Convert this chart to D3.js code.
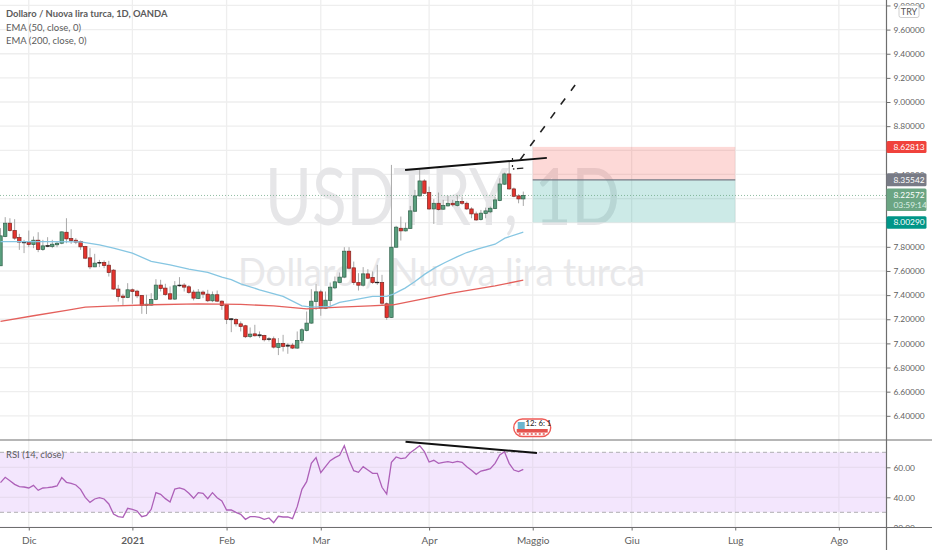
<!DOCTYPE html>
<html>
<head>
<meta charset="utf-8">
<script src="https://cdn.jsdelivr.net/npm/d3@7"></script>
<style>
  html, body { margin: 0; padding: 0; background: #fff; overflow: hidden; }
  svg { display: block; font-family: Lato, sans-serif; }
  .axis path { display: none; }
</style>
</head>
<body>
<svg width="932" height="550"></svg>
<script>
const width = 932;
const height = 550;

// Daily candles, one value per bar
const opens = [7.643,7.886,7.996,7.935,7.877,7.841,7.836,7.819,7.855,7.778,7.811,7.803,7.817,7.830,7.921,7.869,7.855,7.844,7.803,7.709,7.634,7.670,7.670,7.648,7.607,7.450,7.392,7.380,7.444,7.433,7.397,7.314,7.317,7.364,7.483,7.458,7.411,7.367,7.483,7.483,7.469,7.425,7.372,7.425,7.408,7.353,7.403,7.350,7.320,7.204,7.198,7.162,7.146,7.057,7.079,7.071,7.066,7.038,7.038,6.966,7.000,6.986,6.986,6.961,7.024,7.107,7.168,7.347,7.427,7.289,7.355,7.460,7.504,7.549,7.764,7.626,7.504,7.482,7.576,7.546,7.507,7.504,7.328,7.215,7.797,7.954,7.932,7.952,8.095,8.222,8.346,8.250,8.114,8.161,8.112,8.139,8.161,8.142,8.175,8.161,8.114,8.073,8.026,8.076,8.090,8.117,8.183,8.319,8.404,8.280,8.222,8.197];
const highs = [7.955,8.046,8.037,8.029,7.908,7.858,7.935,7.886,7.921,7.858,7.880,7.858,7.844,7.927,8.037,7.946,7.872,7.852,7.808,7.789,7.742,7.692,7.687,7.684,7.615,7.485,7.411,7.499,7.455,7.444,7.400,7.403,7.416,7.532,7.527,7.494,7.472,7.516,7.549,7.499,7.483,7.444,7.450,7.438,7.444,7.430,7.438,7.356,7.323,7.209,7.209,7.182,7.154,7.132,7.154,7.099,7.071,7.052,7.057,7.044,7.071,7.002,7.002,7.099,7.126,7.264,7.449,7.493,7.444,7.430,7.504,7.554,7.587,7.797,7.797,7.678,7.582,7.632,7.615,7.596,7.651,7.568,7.339,8.479,7.974,8.051,8.001,8.139,8.272,8.451,8.360,8.299,8.195,8.250,8.189,8.222,8.189,8.230,8.217,8.175,8.128,8.092,8.106,8.125,8.134,8.217,8.368,8.415,8.506,8.291,8.236,8.258];
const lows = [7.643,7.880,7.927,7.858,7.775,7.748,7.797,7.789,7.756,7.767,7.797,7.789,7.797,7.822,7.830,7.825,7.822,7.775,7.698,7.615,7.632,7.632,7.623,7.554,7.444,7.347,7.312,7.375,7.328,7.375,7.245,7.243,7.311,7.358,7.430,7.394,7.361,7.361,7.469,7.430,7.411,7.356,7.367,7.375,7.342,7.342,7.342,7.278,7.160,7.093,7.140,7.099,7.044,7.044,7.057,7.044,7.016,7.016,6.958,6.903,6.933,6.914,6.953,6.955,7.002,7.099,7.162,7.278,7.229,7.284,7.311,7.449,7.499,7.540,7.615,7.485,7.438,7.471,7.532,7.493,7.485,7.320,7.195,7.210,7.794,7.852,7.927,7.949,8.090,8.217,8.239,8.106,7.990,8.101,8.106,8.134,8.134,8.134,8.148,8.106,8.037,8.015,8.018,8.037,8.079,8.112,8.178,8.313,8.272,8.211,8.161,8.139];
const closes = [7.891,7.996,7.935,7.872,7.839,7.833,7.819,7.855,7.778,7.808,7.803,7.822,7.830,7.924,7.866,7.852,7.839,7.800,7.706,7.634,7.665,7.665,7.645,7.587,7.450,7.389,7.380,7.444,7.430,7.394,7.314,7.325,7.364,7.483,7.455,7.405,7.367,7.477,7.477,7.466,7.422,7.375,7.425,7.408,7.353,7.403,7.350,7.314,7.198,7.196,7.162,7.140,7.055,7.077,7.063,7.063,7.030,7.033,6.969,7.000,6.975,6.977,6.961,7.024,7.113,7.168,7.350,7.427,7.292,7.358,7.466,7.510,7.549,7.764,7.623,7.504,7.482,7.576,7.540,7.504,7.502,7.333,7.215,7.797,7.963,7.932,7.954,8.098,8.222,8.346,8.244,8.114,8.161,8.109,8.142,8.161,8.148,8.175,8.161,8.114,8.073,8.023,8.079,8.098,8.120,8.189,8.321,8.404,8.280,8.219,8.197,8.226];

// EMA lines, read at these bars
const ema50Bars = [0,10,17,21,24,28,32,36,40,44,47,49,51,55,60,64,66,70,72,75,79,82,83.4,85.9,88,90.1,92.3,94.4,96.9,99,101.4,105,107.1,111];
const ema50Values = [7.844,7.844,7.841,7.817,7.789,7.748,7.679,7.651,7.615,7.588,7.549,7.529,7.494,7.444,7.389,7.311,7.300,7.306,7.339,7.361,7.389,7.389,7.408,7.458,7.513,7.574,7.628,7.670,7.717,7.753,7.783,7.822,7.872,7.921];
const ema200Bars = [0,7,14,18,23,32,42,51,58,65,72,78.5,83.4,88.7,95.8,105,111];
const ema200Values = [7.182,7.229,7.273,7.300,7.309,7.320,7.328,7.323,7.311,7.286,7.300,7.311,7.320,7.361,7.416,7.477,7.524];

const rsiValues = [49.76,53.32,51.09,48.65,47.09,46.87,46.21,47.98,44.65,46.21,46.43,46.87,47.54,53.10,49.98,49.32,48.21,45.32,39.98,36.65,38.87,39.76,38.87,35.54,28.87,27.10,26.65,32.65,31.99,30.87,27.10,27.99,31.99,43.10,41.98,39.10,36.87,45.54,46.21,45.32,42.65,39.32,43.10,42.65,39.10,43.10,39.76,37.54,31.54,31.54,29.99,28.65,25.32,27.10,27.10,26.65,25.32,26.21,23.10,27.32,26.87,26.87,25.76,33.76,45.32,50.43,62.65,66.43,56.43,60.43,64.43,66.43,67.98,74.42,64.87,57.76,56.65,60.43,58.20,55.98,55.98,46.65,42.20,63.31,66.87,65.76,66.20,69.76,71.98,74.42,70.42,63.54,64.65,62.65,63.31,63.76,63.09,63.98,63.31,60.43,57.98,55.31,57.54,58.20,59.09,62.65,68.20,70.42,62.65,58.20,57.09,58.65];

// Axis ticks
const monthBars = [6,28,48,68,91,113,134,156,178];
const monthLabels = ["Dic","2021","Feb","Mar","Apr","Maggio","Giu","Lug","Ago"];
const priceTicks = [9.8,9.6,9.4,9.2,9,8.8,8.6,8.4,8.2,8,7.8,7.6,7.4,7.2,7,6.8,6.6,6.4];
const hiddenPriceLabels = [8.6,8.2,8]; // these sit fully under the price tags
const rsiTicks = [60,40,20];

// Long position drawing
const boxStartBar = 113;
const boxEndBar = 156;
const stopPrice = 8.62813;
const entryPrice = 8.35542;
const targetPrice = 8.00290;
const lastPrice = 8.22572;

// Hand drawn lines as [bar, value]
const resistanceLine = [[85.9,8.437],[116,8.537]];
const projectionLine = [[110.3,8.520],[122,9.141]];
const tickDashV = [[108.7,8.537],[108.7,8.462]];
const tickDashH = [[108.8,8.445],[111,8.453]];
const rsiTrendLine = [[86,77.07],[113.9,69.53]];

const axisX = 886.5;
const paneBottom = 440;
const rsiBottom = 527.5;

const x = d3.scaleLinear().domain([0, 111]).range([0.5, 523.3]);
const y = d3.scaleLinear().domain([9.6, 6.4]).range([29.6, 415.8]);
const yRsi = d3.scaleLinear().domain([60, 40]).range([467.3, 497.3]);

const svg = d3.select("svg");
const defs = svg.append("defs");
defs.append("clipPath").attr("id", "pricePane").append("rect")
  .attr("width", axisX).attr("height", paneBottom);
defs.append("clipPath").attr("id", "rsiPane").append("rect")
  .attr("y", paneBottom).attr("width", axisX).attr("height", rsiBottom - paneBottom);

svg.append("rect").attr("width", width).attr("height", height).attr("fill", "#fff");

// Grid
const gridColor = "#eeeeee";
svg.selectAll("line.vgrid")
  .data(monthBars)
  .enter().append("line")
  .attr("class", "vgrid")
  .attr("x1", d => x(d)).attr("x2", d => x(d))
  .attr("y1", 0).attr("y2", rsiBottom)
  .style("stroke", gridColor).style("stroke-width", 1.3);

svg.selectAll("line.hgrid")
  .data(priceTicks)
  .enter().append("line")
  .attr("class", "hgrid")
  .attr("x1", 0).attr("x2", axisX)
  .attr("y1", d => y(d)).attr("y2", d => y(d))
  .style("stroke", gridColor).style("stroke-width", 1.3);

// Watermark
svg.append("text")
  .attr("x", 265).attr("y", 225)
  .attr("textLength", 355).attr("lengthAdjust", "spacingAndGlyphs")
  .style("font-size", "79px")
  .style("fill", "#e6e6e8")
  .text("USDTRY, 1D");
svg.append("text")
  .attr("x", 238).attr("y", 286)
  .attr("textLength", 407).attr("lengthAdjust", "spacingAndGlyphs")
  .style("font-size", "38.5px")
  .style("fill", "#e8e8ea")
  .text("Dollaro / Nuova lira turca");

// Position boxes
const boxX = x(boxStartBar);
const boxW = x(boxEndBar) - x(boxStartBar);
svg.append("rect")
  .attr("x", boxX).attr("width", boxW)
  .attr("y", y(stopPrice)).attr("height", y(entryPrice) - y(stopPrice))
  .style("fill", "#f44336").style("opacity", 0.2);
svg.append("rect")
  .attr("x", boxX).attr("width", boxW)
  .attr("y", y(entryPrice)).attr("height", y(targetPrice) - y(entryPrice))
  .style("fill", "#009688").style("opacity", 0.2);
svg.append("line")
  .attr("x1", boxX).attr("x2", boxX + boxW)
  .attr("y1", y(entryPrice)).attr("y2", y(entryPrice))
  .style("stroke", "#787b86").style("stroke-width", 1.2);

// Last price line
svg.append("line")
  .attr("x1", 0).attr("x2", axisX)
  .attr("y1", y(lastPrice)).attr("y2", y(lastPrice))
  .style("stroke", "#6ba583").style("stroke-width", 1)
  .style("stroke-opacity", 0.75)
  .style("stroke-dasharray", "1 2");

// Candles
const bars = d3.range(closes.length);
const candles = svg.append("g").attr("clip-path", "url(#pricePane)");
const bodyFill = i => Math.abs(closes[i] - opens[i]) < 0.01 ? "#333" : closes[i] > opens[i] ? "#5a9f7e" : "#e5342e";
const bodyEdge = i => Math.abs(closes[i] - opens[i]) < 0.01 ? "#222" : closes[i] > opens[i] ? "#2f6049" : "#7d2420";

candles.selectAll("line.wick")
  .data(bars)
  .enter().append("line")
  .attr("class", "wick")
  .attr("x1", i => x(i)).attr("x2", i => x(i))
  .attr("y1", i => y(highs[i])).attr("y2", i => y(lows[i]))
  .style("stroke", "#a8a8a8").style("stroke-width", 1);

candles.selectAll("rect.body")
  .data(bars)
  .enter().append("rect")
  .attr("class", "body")
  .attr("x", i => x(i) - 1.7)
  .attr("width", 3.4)
  .attr("y", i => y(Math.max(opens[i], closes[i])))
  .attr("height", i => Math.max(0.6, Math.abs(y(opens[i]) - y(closes[i]))))
  .style("fill", bodyFill)
  .style("stroke", bodyEdge)
  .style("stroke-width", 0.7);

// EMA lines
const lineFrom = (bars, values, scale) => d3.line()
  .x((d, i) => x(bars[i]))
  .y((d, i) => scale(values[i]))(values);

candles.append("path")
  .attr("d", lineFrom(ema50Bars, ema50Values, y))
  .style("fill", "none").style("stroke", "#86c6e2").style("stroke-width", 1.3);
candles.append("path")
  .attr("d", lineFrom(ema200Bars, ema200Values, y))
  .style("fill", "none").style("stroke", "#e4605c").style("stroke-width", 1.3);

// Trend drawings
const pairLine = d3.line().x(d => x(d[0])).y(d => y(d[1]));
svg.append("path").attr("d", pairLine(resistanceLine))
  .style("fill", "none").style("stroke", "#111").style("stroke-width", 1.9);
svg.append("path").attr("d", pairLine(projectionLine))
  .style("fill", "none").style("stroke", "#222").style("stroke-width", 1.6)
  .style("stroke-dasharray", "7.5 9.7");
svg.append("path").attr("d", pairLine(tickDashV))
  .style("fill", "none").style("stroke", "#222").style("stroke-width", 1.2)
  .style("stroke-dasharray", "4 3");
svg.append("path").attr("d", pairLine(tickDashH))
  .style("fill", "none").style("stroke", "#222").style("stroke-width", 1.3)
  .style("stroke-dasharray", "1.5 2.5 8 0");

// RSI pane
const rsi = svg.append("g").attr("clip-path", "url(#rsiPane)");
rsi.append("rect")
  .attr("x", 0).attr("width", axisX)
  .attr("y", yRsi(70)).attr("height", yRsi(30) - yRsi(70))
  .style("fill", "#f3e6fd");
rsi.selectAll("line.rsiGrid")
  .data(rsiTicks)
  .enter().append("line")
  .attr("class", "rsiGrid")
  .attr("x1", 0).attr("x2", axisX)
  .attr("y1", d => yRsi(d)).attr("y2", d => yRsi(d))
  .style("stroke", "#e8dcf0").style("stroke-width", 1.2);
rsi.selectAll("line.rsiVgrid")
  .data(monthBars)
  .enter().append("line")
  .attr("class", "rsiVgrid")
  .attr("x1", d => x(d)).attr("x2", d => x(d))
  .attr("y1", yRsi(70)).attr("y2", yRsi(30))
  .style("stroke", "#e8dcf0").style("stroke-width", 1.2);
rsi.selectAll("line.rsiBand")
  .data([70, 30])
  .enter().append("line")
  .attr("class", "rsiBand")
  .attr("x1", 0).attr("x2", axisX)
  .attr("y1", d => yRsi(d)).attr("y2", d => yRsi(d))
  .style("stroke", "#b0aeb2").style("stroke-width", 1)
  .style("stroke-dasharray", "4 3");
rsi.append("path")
  .attr("d", lineFrom(bars, rsiValues, yRsi))
  .style("fill", "none").style("stroke", "#ad60b8").style("stroke-width", 1.3);

// Pane borders
svg.append("line").attr("x1", 0).attr("x2", width).attr("y1", paneBottom).attr("y2", paneBottom)
  .style("stroke", "#6e6e6e").style("stroke-width", 1.2);
svg.append("path")
  .attr("d", d3.line().x(d => x(d[0])).y(d => yRsi(d[1]))(rsiTrendLine))
  .style("fill", "none").style("stroke", "#111").style("stroke-width", 1.9);

// Bottom axis
const xAxis = d3.axisBottom(x)
  .tickValues(monthBars)
  .tickFormat((d, i) => monthLabels[i])
  .tickSize(3)
  .tickPadding(6);
const xAxisG = svg.append("g").attr("class", "axis")
  .attr("transform", `translate(0,${rsiBottom})`)
  .call(xAxis);
xAxisG.selectAll("text").style("font-size", "10px").style("fill", "#5f5f5f")
  .style("font-family", "Lato, sans-serif")
  .style("font-weight", (d, i) => monthLabels[i] === "2021" ? "bold" : "normal");
xAxisG.selectAll("line").style("stroke", "#6e6e6e");

// Right axes
const priceAxis = d3.axisRight(y)
  .tickValues(priceTicks)
  .tickFormat(d => hiddenPriceLabels.includes(d) ? "" : d3.format(".5f")(d))
  .tickSize(4)
  .tickPadding(3);
const priceAxisG = svg.append("g").attr("class", "axis")
  .attr("transform", `translate(${axisX},0)`)
  .call(priceAxis);

const rsiAxis = d3.axisRight(yRsi)
  .tickValues(rsiTicks)
  .tickFormat(d3.format(".2f"))
  .tickSize(4)
  .tickPadding(3);
const rsiAxisG = svg.append("g").attr("class", "axis")
  .attr("transform", `translate(${axisX},0)`)
  .call(rsiAxis);

[priceAxisG, rsiAxisG].forEach(g => {
  g.selectAll("text").style("font-size", "8.4px").style("fill", "#5f5f5f")
    .style("font-family", "Lato, sans-serif");
  g.selectAll("line").style("stroke", "#6e6e6e");
});

// White cover so the 20.00 label is cut by the bottom line
svg.append("rect").attr("x", axisX + 1).attr("y", rsiBottom).attr("width", width).attr("height", height - rsiBottom)
  .style("fill", "#fff");
svg.append("line").attr("x1", 0).attr("x2", width).attr("y1", rsiBottom).attr("y2", rsiBottom)
  .style("stroke", "#6e6e6e").style("stroke-width", 1.2);
svg.append("line").attr("x1", axisX).attr("x2", axisX).attr("y1", 0).attr("y2", height)
  .style("stroke", "#6e6e6e").style("stroke-width", 1.2);

// Price tags
const tagLabels = ["8.62813", "8.35542", "8.22572", "8.00290"];
const tagPrices = [stopPrice, entryPrice, lastPrice, targetPrice];
const tagColors = ["#f0423c", "#787b86", "#6ba583", "#009688"];
const tagHeights = [12, 13, 22.5, 12.5];
const tagOffsets = [-6, -6.5, -7, -6];

svg.selectAll("rect.tag")
  .data(tagLabels)
  .enter().append("rect")
  .attr("class", "tag")
  .attr("x", axisX).attr("width", 40).attr("rx", 1.5)
  .attr("y", (d, i) => y(tagPrices[i]) + tagOffsets[i])
  .attr("height", (d, i) => tagHeights[i])
  .style("fill", (d, i) => tagColors[i]);
svg.selectAll("text.tag")
  .data(tagLabels)
  .enter().append("text")
  .attr("class", "tag")
  .attr("x", axisX + 7)
  .attr("y", (d, i) => y(tagPrices[i]) + 3)
  .style("font-size", "8.4px")
  .style("fill", "#fff")
  .text(d => d);
svg.append("text")
  .attr("x", axisX + 7).attr("y", y(lastPrice) + 13)
  .style("font-size", "8.4px").style("fill", "#dbeee3")
  .text("03:59:14");

// Currency button
svg.append("rect")
  .attr("x", 899).attr("y", 5.5).attr("width", 20).attr("height", 12).attr("rx", 2)
  .style("fill", "#fff").style("stroke", "#d0d0d0");
svg.append("text")
  .attr("x", 909).attr("y", 14.8).attr("text-anchor", "middle")
  .style("font-size", "9px").style("fill", "#555").text("TRY");

// Legend
const legendLines = ["Dollaro / Nuova lira turca, 1D, OANDA", "EMA (50, close, 0)", "EMA (200, close, 0)"];
svg.selectAll("text.legend")
  .data(legendLines)
  .enter().append("text")
  .attr("class", "legend")
  .attr("x", 6)
  .attr("y", (d, i) => 17 + i * 13.7)
  .style("font-size", (d, i) => i === 0 ? "9.4px" : "9.5px")
  .style("font-weight", (d, i) => i === 0 ? "bold" : "normal")
  .style("fill", "#5b5b5b")
  .text(d => d);
svg.append("text")
  .attr("x", 6).attr("y", 457.5)
  .style("font-size", "9.5px").style("fill", "#5b5b5b")
  .text("RSI (14, close)");

// Flag marker with countdown
const flag = svg.append("g").attr("transform", `translate(${x(boxStartBar) - 19},419)`);
flag.append("rect").attr("x", 0).attr("y", 0).attr("width", 37).attr("height", 17.5).attr("rx", 8.7)
  .style("fill", "#fff").style("stroke", "#ee5a55").style("stroke-width", 1.4);
flag.append("rect").attr("x", 3).attr("width", 31).attr("y", 10).attr("height", 3.6)
  .style("fill", "#e5534e");
flag.append("line").attr("x1", 5).attr("x2", 32).attr("y1", 15).attr("y2", 15)
  .style("stroke", "#e5534e").style("stroke-width", 1.6).style("stroke-dasharray", "2 2");
flag.append("rect").attr("x", 4).attr("y", 3).attr("width", 7).attr("height", 7)
  .style("fill", "#6cb6cf");
flag.append("text").attr("x", 11.7).attr("y", 6.5)
  .style("font-size", "7.8px").style("fill", "#222").text("12: 6: 1");
</script>
</body>
</html>
